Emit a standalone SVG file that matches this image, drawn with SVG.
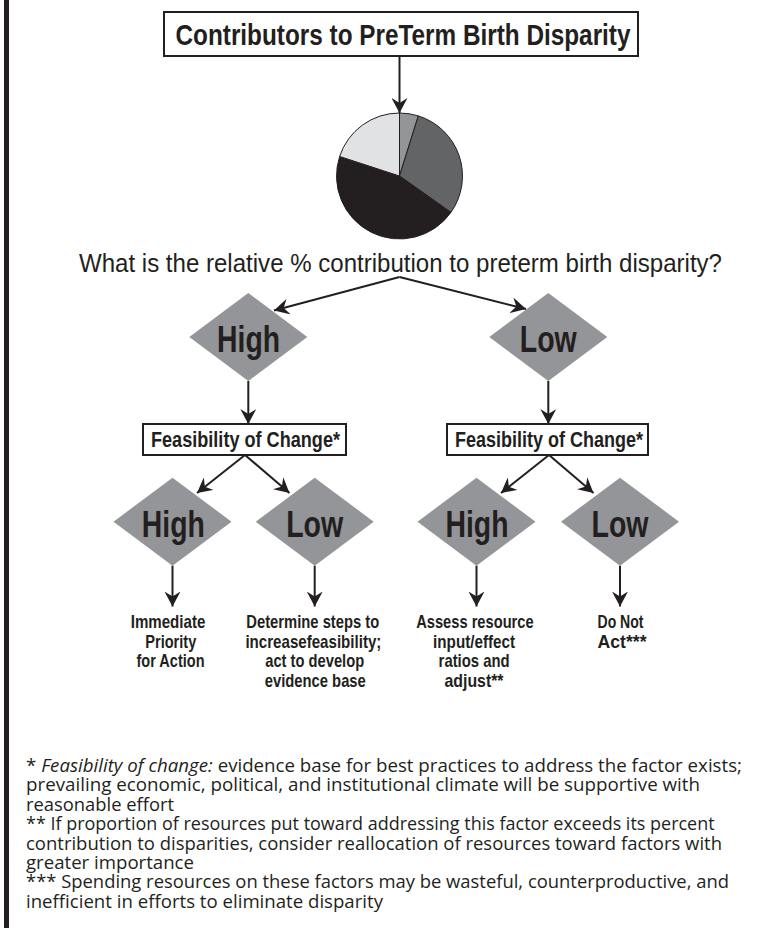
<svg xmlns="http://www.w3.org/2000/svg" width="775" height="928" viewBox="0 0 775 928">
<style>
.box{fill:#fff;stroke:#231f20;stroke-width:2}
.dia{fill:#939598;stroke:none}
.hd{font-family:"Liberation Sans",Arial,sans-serif;font-weight:bold;fill:#231f20}
.dl{font-size:37px;text-anchor:middle}
.fb{font-size:21.5px}
.lab{font-size:19px;text-anchor:middle}
.q{font-family:"Liberation Sans",Arial,sans-serif;font-size:25px;fill:#231f20}
.fn{font-family:"Open Sans","Noto Sans",sans-serif;font-size:17.5px;fill:#231f20}
.con line{stroke:#231f20;stroke-width:2;marker-end:url(#ah)}
.pie path{stroke:#231f20;stroke-width:1}
</style>
<defs>
<marker id="ah" viewBox="-15 -8 15 16" refX="0" refY="0" markerWidth="15" markerHeight="16" markerUnits="userSpaceOnUse" orient="auto">
<path d="M0,0 L-15,-8 L-10,0 L-15,8 Z" fill="#231f20"/>
</marker>
</defs>
<rect x="4" y="0" width="5" height="928" fill="#231f20"/>

<g id="title">
<rect class="box" x="164" y="12" width="474" height="44"/>
<text class="hd" x="175.5" y="45" font-size="30" textLength="455" lengthAdjust="spacingAndGlyphs">Contributors to PreTerm Birth Disparity</text>
</g>

<g id="pie" class="pie">
<path d="M399.5,176 L399.5,113 A63,63 0 0 1 418.34,115.89 Z" fill="#939598"/>
<path d="M399.5,176 L418.34,115.89 A63,63 0 0 1 450.91,212.41 Z" fill="#636466"/>
<path d="M399.5,176 L450.91,212.41 A63,63 0 0 1 339.62,156.43 Z" fill="#231f20"/>
<path d="M399.5,176 L339.62,156.43 A63,63 0 0 1 399.5,113 Z" fill="#e1e2e3"/>
</g>

<g id="question">
<text class="q" x="79" y="272" textLength="643" lengthAdjust="spacingAndGlyphs">What is the relative % contribution to preterm birth disparity?</text>
</g>

<g id="high1">
<polygon class="dia" points="248.3,293 307.3,337 248.3,381 189.3,337"/>
<text class="hd dl" x="248.6" y="352" textLength="63" lengthAdjust="spacingAndGlyphs">High</text>
</g>
<g id="low1">
<polygon class="dia" points="548.3,293 607.3,337 548.3,381 489.3,337"/>
<text class="hd dl" x="548.3" y="352" textLength="57" lengthAdjust="spacingAndGlyphs">Low</text>
</g>

<g id="feasL">
<rect class="box" x="143" y="424" width="203" height="31"/>
<text class="hd fb" x="151" y="447" textLength="189" lengthAdjust="spacingAndGlyphs">Feasibility of Change*</text>
</g>
<g id="feasR">
<rect class="box" x="447" y="424" width="201" height="31"/>
<text class="hd fb" x="455" y="447" textLength="188" lengthAdjust="spacingAndGlyphs">Feasibility of Change*</text>
</g>

<g id="hh">
<polygon class="dia" points="172.5,477.7 231.5,521.7 172.5,565.7 113.5,521.7"/>
<text class="hd dl" x="173.3" y="537" textLength="63" lengthAdjust="spacingAndGlyphs">High</text>
</g>
<g id="hl">
<polygon class="dia" points="314.7,477.7 373.7,521.7 314.7,565.7 255.7,521.7"/>
<text class="hd dl" x="314.7" y="537" textLength="57" lengthAdjust="spacingAndGlyphs">Low</text>
</g>
<g id="lh">
<polygon class="dia" points="476.5,477.7 535.5,521.7 476.5,565.7 417.5,521.7"/>
<text class="hd dl" x="477" y="537" textLength="63" lengthAdjust="spacingAndGlyphs">High</text>
</g>
<g id="ll">
<polygon class="dia" points="620,477.7 679,521.7 620,565.7 561,521.7"/>
<text class="hd dl" x="620" y="537" textLength="57" lengthAdjust="spacingAndGlyphs">Low</text>
</g>

<g id="out1">
<text class="hd lab"><tspan x="168" y="628" textLength="74.6" lengthAdjust="spacingAndGlyphs">Immediate</tspan><tspan x="170.8" y="647.5" textLength="51" lengthAdjust="spacingAndGlyphs">Priority</tspan><tspan x="170.5" y="667" textLength="68" lengthAdjust="spacingAndGlyphs">for Action</tspan></text>
</g>
<g id="out2">
<text class="hd lab"><tspan x="312.8" y="628" textLength="133" lengthAdjust="spacingAndGlyphs">Determine steps to</tspan><tspan x="313.4" y="647.5" textLength="136" lengthAdjust="spacingAndGlyphs">increasefeasibility;</tspan><tspan x="314.7" y="667" textLength="99" lengthAdjust="spacingAndGlyphs">act to develop</tspan><tspan x="315.3" y="686.5" textLength="101" lengthAdjust="spacingAndGlyphs">evidence base</tspan></text>
</g>
<g id="out3">
<text class="hd lab"><tspan x="474.9" y="628" textLength="117.5" lengthAdjust="spacingAndGlyphs">Assess resource</tspan><tspan x="474.1" y="647.5" textLength="82" lengthAdjust="spacingAndGlyphs">input/effect</tspan><tspan x="474.1" y="667" textLength="71" lengthAdjust="spacingAndGlyphs">ratios and</tspan><tspan x="474" y="686.5" textLength="59" lengthAdjust="spacingAndGlyphs">adjust**</tspan></text>
</g>
<g id="out4">
<text class="hd lab"><tspan x="620.5" y="628" textLength="46" lengthAdjust="spacingAndGlyphs">Do Not</tspan><tspan x="622" y="647.5" textLength="49" lengthAdjust="spacingAndGlyphs">Act***</tspan></text>
</g>

<g id="connectors" class="con">
<line x1="399.5" y1="56" x2="399.5" y2="113"/>
<line x1="399.5" y1="277" x2="274" y2="310.5"/>
<line x1="399.5" y1="277" x2="526" y2="309"/>
<line x1="248.3" y1="381" x2="248.3" y2="424"/>
<line x1="548.3" y1="381" x2="548.3" y2="424"/>
<line x1="245" y1="455" x2="197" y2="493"/>
<line x1="245" y1="455" x2="289.5" y2="493"/>
<line x1="549" y1="455" x2="501" y2="493"/>
<line x1="549" y1="455" x2="593.5" y2="493"/>
<line x1="172.5" y1="565.7" x2="172.5" y2="606.5"/>
<line x1="314.7" y1="565.7" x2="314.7" y2="606.5"/>
<line x1="476.5" y1="565.7" x2="476.5" y2="606.5"/>
<line x1="620" y1="565.7" x2="620" y2="606.5"/>
</g>

<g id="footnotes">
<text class="fn"><tspan x="26" y="772" textLength="716" lengthAdjust="spacingAndGlyphs">* <tspan font-style="italic">Feasibility of change:</tspan> evidence base for best practices to address the factor exists;</tspan><tspan x="26" y="791.4" textLength="674" lengthAdjust="spacingAndGlyphs">prevailing economic, political, and institutional climate will be supportive with</tspan><tspan x="26" y="810.8" textLength="148" lengthAdjust="spacingAndGlyphs">reasonable effort</tspan><tspan x="26" y="830.2" textLength="688.6" lengthAdjust="spacingAndGlyphs">** If proportion of resources put toward addressing this factor exceeds its percent</tspan><tspan x="26" y="849.6" textLength="696" lengthAdjust="spacingAndGlyphs">contribution to disparities, consider reallocation of resources toward factors with</tspan><tspan x="26" y="869" textLength="168" lengthAdjust="spacingAndGlyphs">greater importance</tspan><tspan x="26" y="888.4" textLength="703" lengthAdjust="spacingAndGlyphs">*** Spending resources on these factors may be wasteful, counterproductive, and</tspan><tspan x="26" y="907.8" textLength="357" lengthAdjust="spacingAndGlyphs">inefficient in efforts to eliminate disparity</tspan></text>
</g>
</svg>
